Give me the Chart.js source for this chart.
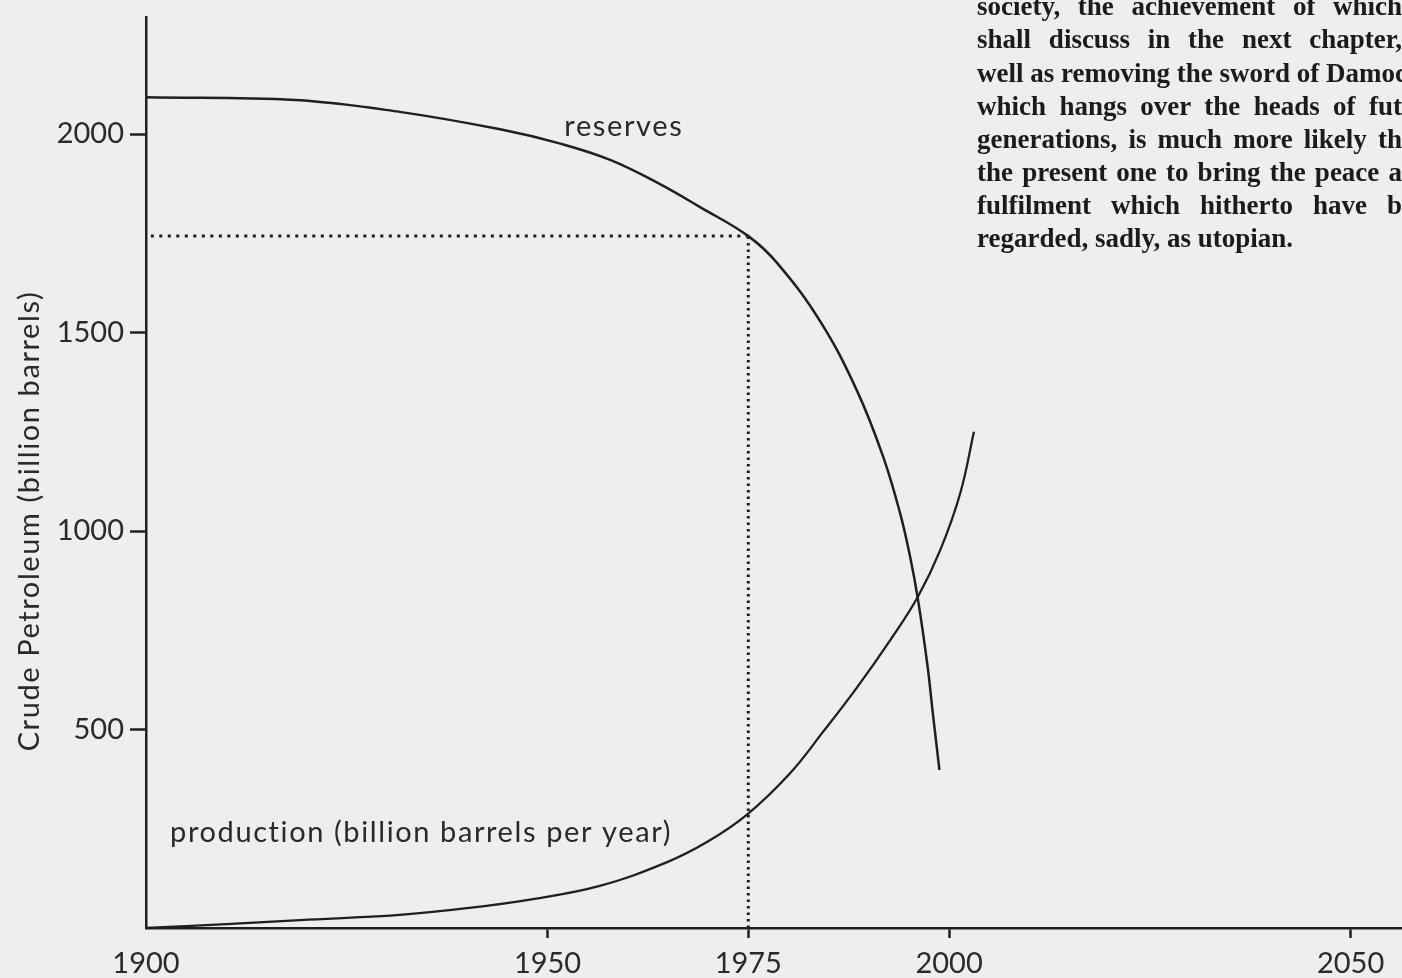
<!DOCTYPE html>
<html>
<head>
<meta charset="utf-8">
<script src="https://cdn.jsdelivr.net/npm/chart.js@4.4.0/dist/chart.umd.min.js"></script>
<style>
html,body{margin:0;padding:0;background:#eeeeee;overflow:hidden;}
#wrap{position:relative;width:1402px;height:978px;overflow:hidden;}
#c{position:absolute;left:0;top:0;}
.bk{position:absolute;left:977px;width:425px;font-family:"Liberation Serif",serif;font-weight:bold;font-size:27px;line-height:33px;color:#1b1b1b;white-space:nowrap;text-align:justify;text-align-last:justify;}
.bk.last{text-align:left;text-align-last:left;}
</style>
</head>
<body>
<div id="wrap">
<canvas id="c" width="1402" height="978"></canvas>
<div class="bk" style="top:-10px">society, the achievement of which</div>
<div class="bk" style="top:23px">shall discuss in the next chapter,</div>
<div class="bk" style="top:57px">well as removing the sword of Damoc</div>
<div class="bk" style="top:90px">which hangs over the heads of fut</div>
<div class="bk" style="top:123px">generations, is much more likely th</div>
<div class="bk" style="top:156px">the present one to bring the peace a</div>
<div class="bk" style="top:189px">fulfilment which hitherto have b</div>
<div class="bk last" style="top:222px">regarded, sadly, as utopian.</div>
</div>
<script>
// ---- data ----
const reserveYears  = [1900, 1918.6, 1931.6, 1944.1, 1951.6, 1957.8, 1964.0, 1969.0, 1975, 1978.6, 1983.9, 1988.5, 1991.8, 1993.9, 1995.1, 1996.1, 1997.3, 1998.0, 1998.8];
const reserveValues = [2093, 2086, 2056, 2012, 1976, 1935, 1874, 1816, 1743, 1675, 1530, 1355, 1187, 1045, 940, 831, 663, 537, 398];
const productionYears  = [1900, 1910, 1919.2, 1931.6, 1940.0, 1948.2, 1956.5, 1964.9, 1969.9, 1974.8, 1980.2, 1984.3, 1988.5, 1992.7, 1996.1, 1998.9, 2001.4, 2003.1];
const productionValues = [0, 10, 20, 33, 50, 73, 106, 166, 217, 285, 390, 494, 605, 726, 834, 952, 1096, 1250];
const markerYear = 1975;
const markerValue = 1743;
const xTicks = [1900, 1950, 1975, 2000, 2050];
const yTicks = [500, 1000, 1500, 2000];
const yTitle = "Crude Petroleum (billion barrels)";
const reservesLabel = "reserves";
const productionLabel = "production (billion barrels per year)";

// ---- layout / styling ----
const ink = '#1f1f1f';
const textInk = '#2a2a2a';
const sans = 'Lato, "Open Sans", sans-serif';

const toPts = (xs, ys) => xs.map((v, i) => ({x: v, y: ys[i]}));

const annot = {
  id: 'annot',
  afterDraw(chart) {
    const {ctx, scales: {x, y}} = chart;
    ctx.save();
    ctx.fillStyle = textInk;
    ctx.font = '29px ' + sans;
    ctx.letterSpacing = '1.6px';
    ctx.textBaseline = 'middle';
    ctx.textAlign = 'center';
    ctx.fillText(reservesLabel, x.getPixelForValue(1959.5), y.getPixelForValue(2020));
    ctx.textAlign = 'left';
    ctx.fillText(productionLabel, x.getPixelForValue(1903), y.getPixelForValue(240));
    ctx.translate(30, 521);
    ctx.rotate(-Math.PI / 2);
    ctx.textAlign = 'center';
    ctx.fillText(yTitle, 0, 0);
    ctx.restore();
  }
};

new Chart(document.getElementById('c'), {
  type: 'line',
  data: {
    datasets: [
      {data: toPts(reserveYears, reserveValues), borderColor: ink, borderWidth: 2.5, pointRadius: 0, tension: 0.4},
      {data: toPts(productionYears, productionValues), borderColor: ink, borderWidth: 2.3, pointRadius: 0, tension: 0.4},
      {data: [{x: 1900.6, y: markerValue}, {x: markerYear, y: markerValue}], borderColor: ink, borderWidth: 3, borderDash: [3, 5.5], pointRadius: 0},
      {data: [{x: markerYear, y: 0}, {x: markerYear, y: markerValue}], borderColor: ink, borderWidth: 3, borderDash: [2.5, 4], pointRadius: 0}
    ]
  },
  options: {
    responsive: false,
    animation: false,
    layout: {padding: {top: 17, right: 0, left: 0, bottom: 0}},
    plugins: {legend: {display: false}, tooltip: {enabled: false}},
    scales: {
      x: {
        type: 'linear', min: 1900, max: 2056.4,
        afterBuildTicks: s => { s.ticks = xTicks.map(v => ({value: v})); },
        afterFit: s => { s.height = 50; s.paddingLeft = 0; s.paddingRight = 0; },
        border: {display: true, color: ink, width: 2.5},
        grid: {drawOnChartArea: false, drawTicks: true, tickLength: 10, tickWidth: 2.5,
               tickColor: c => (c.tick && c.tick.value === 1900) ? 'rgba(0,0,0,0)' : ink},
        ticks: {autoSkip: false, maxRotation: 0, padding: 8, color: textInk, font: {family: sans, size: 29},
                callback: v => String(v)}
      },
      y: {
        type: 'linear', min: 0, max: 2295,
        afterBuildTicks: s => { s.ticks = yTicks.map(v => ({value: v})); },
        afterFit: s => { s.width = 146; s.paddingTop = 0; s.paddingBottom = 0; },
        border: {display: true, color: ink, width: 2.5},
        grid: {drawOnChartArea: false, drawTicks: true, tickLength: 16, tickWidth: 2.5, tickColor: ink},
        ticks: {padding: 6, color: textInk, font: {family: sans, size: 29}, callback: v => String(v)}
      }
    }
  },
  plugins: [annot]
});
</script>
</body>
</html>
